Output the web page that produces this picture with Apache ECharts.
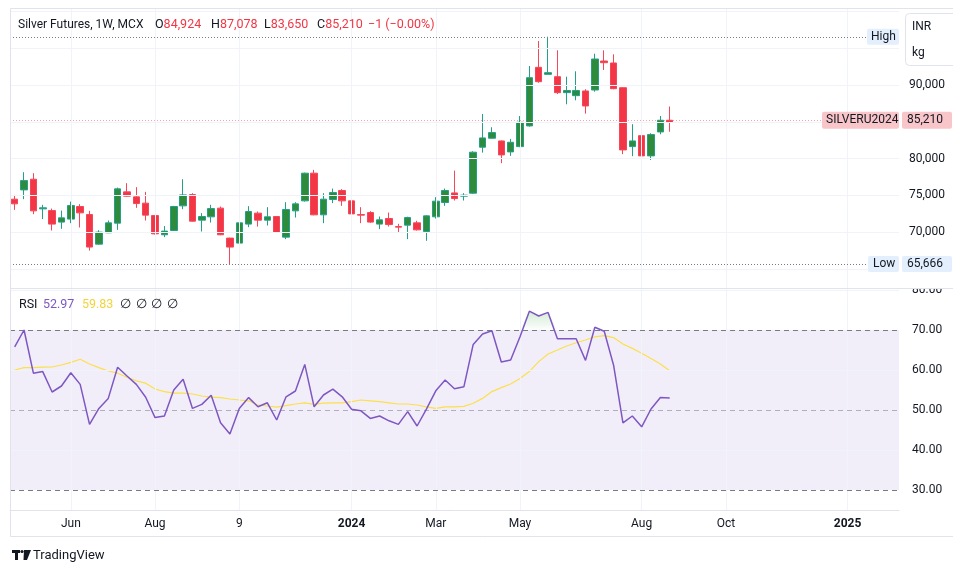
<!DOCTYPE html>
<html><head><meta charset="utf-8">
<script src="https://cdn.jsdelivr.net/npm/echarts@6/dist/echarts.min.js"></script>
<style>html,body{margin:0;padding:0;background:#fff;}#c{width:953px;height:574px;}</style>
</head><body><div id="c"></div>
<script>
// ---------- data ----------
const firstWeek = [2023, 3, 24];   // Monday 24 Apr 2023
const totalWeeks = 95;            // axis runs into 2025
const open  = [74490,75750,77200,73170,72940,71370,71780,73490,72400,68380,69920,71230,75480,74800,73950,72260,69650,70230,73580,75110,71640,72090,73270,69200,68520,71100,72590,71640,72130,69330,72900,74260,78020,72360,74440,75660,74260,72400,72670,71100,71860,70770,70960,71270,70090,72090,74030,75340,74900,75300,81550,82770,82400,80910,81630,84440,92400,91450,91130,88960,88550,89190,89320,93260,92990,89630,81630,83120,80370,83620,84924];
const high  = [75070,78150,78020,73720,73210,72940,74160,73810,72900,70280,71590,76060,76660,76120,75480,72300,70830,73580,77200,75300,72590,73720,73490,69250,71450,73540,72810,73400,72200,74080,74080,78100,78470,75300,75930,75850,74940,73400,72860,72130,72670,71140,72100,71550,72300,74760,75930,78370,75300,81000,86070,84260,82450,82670,85790,92580,95970,96550,94710,91130,91860,89420,94250,94710,94170,89700,84670,83310,83450,85790,87078];
const low   = [73040,74490,72450,71780,70230,70460,71230,70640,67510,68300,69880,70320,74840,73310,71590,69690,69330,70190,73130,71450,70090,71310,69600,65666,68450,70690,70770,70910,69900,69060,71990,74160,72300,71230,73950,73580,71680,71230,71270,70420,70770,69960,69060,70230,68830,71860,73580,74300,74300,75210,80810,82700,79380,80370,81550,84340,90310,91450,88780,87380,87920,86110,89090,92040,89420,80600,80330,78240,79820,83310,83650];
const close = [73850,77010,72900,73310,71100,71950,73620,72630,67980,70010,71270,75890,74900,73890,72320,69780,70150,73490,75070,71500,72130,73210,69650,67980,71270,72810,71640,72090,69960,73080,73850,78020,72360,74490,75390,74260,72490,72320,71370,71680,71040,70690,71990,70320,72220,74220,75660,74570,75030,80870,82810,83530,80500,82220,84940,90990,90450,91670,88960,89250,89260,87150,93530,93030,89500,81180,82400,80370,83260,85211,85210];
const rsi   = [65.8,70.0,59.2,59.6,54.5,56.0,59.3,56.4,46.4,50.4,52.9,60.7,58.5,56.4,53.2,48.1,48.5,55.0,57.7,50.4,51.4,53.7,46.8,44.0,50.4,53.1,50.8,51.8,47.5,53.3,54.75,61.4,50.8,53.75,55.2,53.3,50.2,49.8,47.9,48.5,47.3,46.4,49.6,46.0,50.2,54.8,57.5,55.3,55.8,66.4,69.0,69.8,62.0,62.5,68.3,74.7,73.5,74.4,67.8,67.8,67.8,62.4,70.7,69.7,61.2,46.8,48.5,45.8,50.25,53.1,52.97];
const rsiMa = [60.0,60.6,60.6,60.7,60.75,61.25,61.9,62.7,61.5,60.6,59.75,59.2,58.2,57.3,56.7,55.25,54.6,54.2,54.2,54.0,53.5,53.2,53.1,52.75,52.5,52.3,51.25,51.0,50.7,51.1,51.5,51.8,51.4,51.7,51.8,51.8,52.1,52.5,52.3,52.1,51.8,51.5,51.5,51.25,50.8,50.4,50.8,50.8,50.9,51.7,52.9,54.6,55.6,56.5,57.9,59.6,62.1,64.0,65.0,66.0,66.8,67.5,68.3,68.6,68.1,66.5,65.4,64.2,62.9,61.5,59.83];
const xTickDates = ['2023-06-05','2023-08-07','2023-10-09','2024-01-01','2024-03-04','2024-05-06','2024-08-05','2024-10-07','2025-01-06'];
const xTickText  = ['Jun','Aug','9','2024','Mar','May','Aug','Oct','2025'];
const priceTickLabels = [70000,75000,80000,90000];
const priceGridValues = [65000,70000,75000,80000,85000,90000,95000,100000];
const rsiTickLabels = [30,40,50,60,70,80];
const rsiGridValues = [40,60,80];
const rsiBandLevels = [70,50,30];
const symbolName = 'SILVERU2024';
const header = {title:'Silver Futures, 1W, MCX', change:'\u22121 (\u22120.00%)'};
const rsiHeader = {name:'RSI', empty:['\u2205','\u2205','\u2205','\u2205']};

// ---------- derived ----------
const categories = [];
for (let i = 0; i < totalWeeks; i++) {
  const d = new Date(Date.UTC(firstWeek[0], firstWeek[1], firstWeek[2]) + i * 7 * 864e5);
  categories.push(d.toISOString().slice(0, 10));
}
const UP = {body:'#2e8b3c', border:'#22a08a'};
const DOWN = {body:'#f23645', border:'#f5475a'};
const candleData = close.map((c, i) => {
  const prev = i > 0 ? close[i-1] : open[i];
  const col = c >= prev ? UP : DOWN;
  return {value:[open[i], close[i], low[i], high[i]],
    itemStyle:{color:col.body, color0:col.body, borderColor:col.border, borderColor0:col.border}};
});
const maxHigh = Math.max(...high), minLow = Math.min(...low);
const lastClose = close[close.length-1], lastOpen = open[open.length-1];
const fmt = v => Math.round(v).toLocaleString('en-US');
const FONT = 'Roboto, sans-serif';
const TXT = '#131722';
const GRIDC = '#f0f3fa';

const chart = echarts.init(document.getElementById('c'), null, {renderer:'canvas'});
const textStyle = {fontFamily:FONT};
const vLines = xTickDates.map(d => ({xAxis:d}));

chart.setOption({
  animation:false,
  textStyle,
  grid:[
    {left:10, right:54, top:8, height:280},
    {left:10, right:54, top:288, height:222}
  ],
  xAxis:[
    {type:'category', gridIndex:0, data:categories, boundaryGap:true,
      axisLine:{show:false}, axisTick:{show:false}, axisLabel:{show:false}, splitLine:{show:false}},
    {type:'category', gridIndex:1, data:categories, boundaryGap:true,
      axisLine:{show:true, lineStyle:{color:'#e0e3eb'}}, axisTick:{show:false}, splitLine:{show:false},
      axisLabel:{interval:(i, v) => xTickDates.indexOf(v) >= 0, margin:8, color:TXT, fontSize:12, fontFamily:FONT,
        formatter:v => { const k = xTickDates.indexOf(v); const t = xTickText[k]; return /^\d{4}$/.test(t) ? '{b|' + t + '}' : t; },
        rich:{b:{fontWeight:'bold', color:TXT, fontSize:12, fontFamily:FONT}}}}
  ],
  yAxis:[
    {type:'value', gridIndex:0, position:'right', min:62420, max:100460, scale:true,
      axisLine:{show:false}, axisTick:{show:false}, splitLine:{show:false},
      axisLabel:{customValues:priceTickLabels, formatter:v => fmt(v), color:TXT, fontSize:12, margin:10, fontFamily:FONT}},
    {type:'value', gridIndex:1, position:'right', min:25, max:80.5,
      axisLine:{show:false}, axisTick:{show:false}, splitLine:{show:false},
      axisLabel:{customValues:rsiTickLabels, formatter:v => v.toFixed(2), color:TXT, fontSize:12, margin:13, fontFamily:FONT}}
  ],
  series:[
    {type:'line', xAxisIndex:0, yAxisIndex:0, data:[], z:1, silent:true,
      markLine:{silent:true, symbol:'none', animation:false, label:{show:false},
        lineStyle:{color:GRIDC, type:'solid', width:1},
        data:priceGridValues.map(v => ({yAxis:v})).concat(vLines)}},
    {type:'line', xAxisIndex:1, yAxisIndex:1, data:[], z:1, silent:true,
      markArea:{silent:true, itemStyle:{color:'rgba(126,87,194,0.1)'}, data:[[{yAxis:30},{yAxis:70}]]},
      markLine:{silent:true, symbol:'none', animation:false, label:{show:false},
        lineStyle:{color:GRIDC, type:'solid', width:1},
        data:rsiGridValues.map(v => ({yAxis:v})).concat(vLines)}},
    {type:'line', xAxisIndex:1, yAxisIndex:1, data:[], z:2, silent:true,
      markLine:{silent:true, symbol:'none', animation:false, label:{show:false},
        data:rsiBandLevels.map(v => ({yAxis:v, lineStyle:{color: v === 50 ? 'rgba(120,123,134,0.55)' : '#787b86', type:[5,4], width:1}}))}},
    {name:'price', type:'candlestick', xAxisIndex:0, yAxisIndex:0, data:candleData, barWidth:7, z:3,
      markLine:{silent:true, symbol:'none', animation:false, label:{show:false},
        data:[
          {yAxis:maxHigh, lineStyle:{color:'#787b86', type:[1,2], width:1}},
          {yAxis:minLow, lineStyle:{color:'#787b86', type:[1,2], width:1}},
          {yAxis:lastClose, lineStyle:{color:'rgba(242,54,69,0.45)', type:[1,2], width:1}}
        ]}},
    {name:'ob', type:'line', xAxisIndex:1, yAxisIndex:1, data:rsi.map(v => Math.max(v, 70)), symbol:'none', z:3, silent:true,
      lineStyle:{width:0, opacity:0},
      areaStyle:{origin:70, color:new echarts.graphic.LinearGradient(0,0,0,1,[{offset:0,color:'rgba(76,175,80,0.35)'},{offset:1,color:'rgba(76,175,80,0.02)'}])}},
    {name:'RSI MA', type:'line', xAxisIndex:1, yAxisIndex:1, data:rsiMa, symbol:'none', z:4,
      lineStyle:{color:'#fbe04a', width:1.2}},
    {name:'RSI', type:'line', xAxisIndex:1, yAxisIndex:1, data:rsi, symbol:'none', z:5,
      lineStyle:{color:'#7e57c2', width:1.5}}
  ]
});

// ---------- overlay labels ----------
const yH = chart.convertToPixel({yAxisIndex:0}, maxHigh);
const yL = chart.convertToPixel({yAxisIndex:0}, minLow);
const yC = chart.convertToPixel({yAxisIndex:0}, lastClose);
const box = (x, y, w, h, fill, text, tx, opts) => ([
  {type:'rect', z:100, shape:{x:x, y:y - h/2, width:w, height:h, r:2}, style:{fill:fill}},
  {type:'text', z:101, x:tx, y:y, style:Object.assign({text:text, fill:TXT, font:'12px ' + FONT, verticalAlign:'middle', textAlign:'left'}, opts || {})}
]);
const hdr = (x, k, v) => ({type:'text', z:101, x:x, y:24.5, style:{
  text:'{k|' + k + '}{v|' + v + '}', verticalAlign:'middle',
  rich:{k:{fill:TXT, font:'12.5px ' + FONT}, v:{fill:'#f23645', font:'12.5px ' + FONT}}}});
const el = [
  {type:'rect', z:99, shape:{x:10.5, y:8.5, width:960, height:528}, style:{fill:'none', stroke:'#e0e3eb', lineWidth:1}},
  {type:'line', z:99, shape:{x1:10, y1:288.5, x2:953, y2:288.5}, style:{stroke:'#e0e3eb', lineWidth:1}},
  {type:'rect', z:100, shape:{x:900, y:278, width:60, height:10}, style:{fill:'#fff'}},
  {type:'text', z:101, x:18, y:24.5, style:{text:header.title, fill:TXT, font:'12px ' + FONT, verticalAlign:'middle'}},
  hdr(155, 'O', fmt(lastOpen)), hdr(211, 'H', fmt(high[high.length-1])), hdr(264, 'L', fmt(low[low.length-1])), hdr(317, 'C', fmt(lastClose)),
  {type:'text', z:101, x:368, y:24.5, style:{text:header.change, fill:'#f23645', font:'12.5px ' + FONT, verticalAlign:'middle'}},
  {type:'text', z:101, x:19, y:305, style:{text:rsiHeader.name, fill:TXT, font:'12.5px ' + FONT, verticalAlign:'middle'}},
  {type:'text', z:101, x:43, y:305, style:{text:rsi[rsi.length-1].toFixed(2), fill:'#7e57c2', font:'12.5px ' + FONT, verticalAlign:'middle'}},
  {type:'text', z:101, x:82, y:305, style:{text:rsiMa[rsiMa.length-1].toFixed(2), fill:'#f2d43a', font:'12.5px ' + FONT, verticalAlign:'middle'}},
  ...rsiHeader.empty.map((t, i) => ({type:'text', z:101, x:120 + i*15.5, y:305, style:{text:t, fill:TXT, font:'12.5px ' + FONT, verticalAlign:'middle'}})),
  // INR / kg unit box
  {type:'rect', z:100, shape:{x:905.5, y:13.5, width:60, height:52, r:4}, style:{fill:'#fff', stroke:'#e0e3eb', lineWidth:1}},
  {type:'text', z:101, x:912, y:27, style:{text:'INR', fill:TXT, font:'12px ' + FONT, verticalAlign:'middle'}},
  {type:'text', z:101, x:912, y:53, style:{text:'kg', fill:TXT, font:'12px ' + FONT, verticalAlign:'middle'}},
  ...box(867, yH, 32, 16, '#e3effd', 'High', 871),
  ...box(868, yL, 31, 16, '#e3effd', 'Low', 873),
  ...box(902, yL, 50, 16, '#e3effd', fmt(minLow), 907),
  ...box(822, yC, 77, 17, '#f8c5c9', symbolName, 826),
  ...box(902, yC, 50, 17, '#f8c5c9', fmt(lastClose), 907),
  // TradingView mark
  {type:'rect', z:101, shape:{x:12, y:550, width:8, height:3}, style:{fill:TXT}},
  {type:'rect', z:101, shape:{x:15, y:550, width:3, height:10}, style:{fill:TXT}},
  {type:'circle', z:101, shape:{cx:22, cy:551.5, r:1.6}, style:{fill:TXT}},
  {type:'polygon', z:101, shape:{points:[[24,550],[31,550],[27,560],[23.5,560]]}, style:{fill:TXT}},
  {type:'text', z:101, x:33, y:555.5, style:{text:'TradingView', fill:TXT, font:'13px ' + FONT, verticalAlign:'middle'}}
];
chart.setOption({graphic:{elements:el}});
</script></body></html>
